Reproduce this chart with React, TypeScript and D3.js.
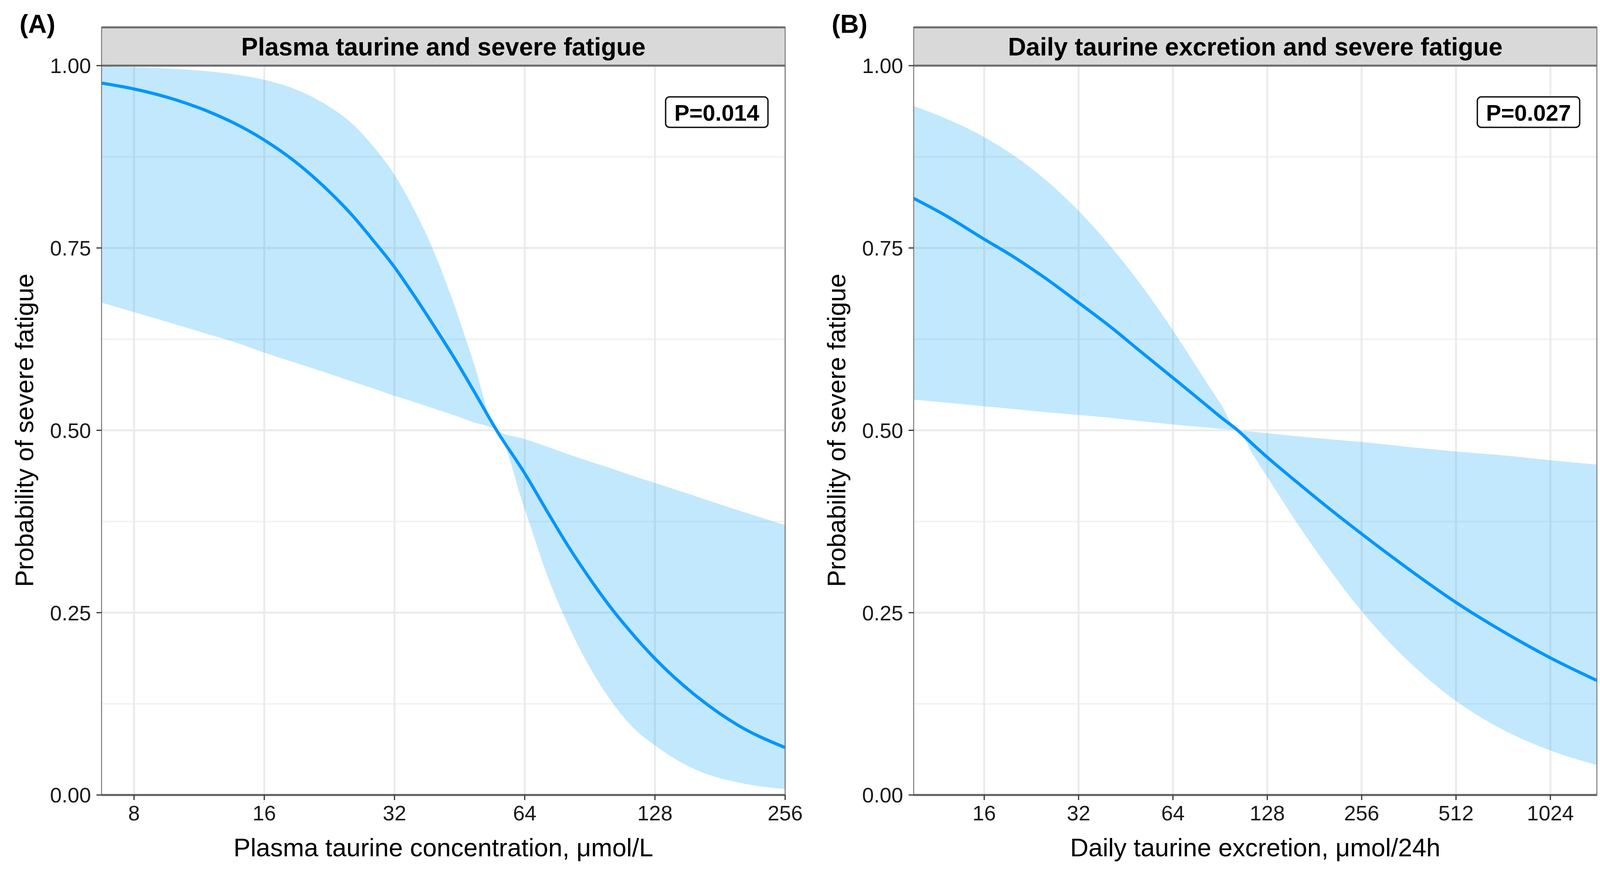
import * as d3 from 'd3';

// Panel A: plasma taurine (umol/L) vs probability of severe fatigue
const plasmaX = [6.73, 8, 10, 12, 13.65, 15.9, 18.8, 22, 25.8, 28.7, 31.7, 35.5, 39.4, 43.8, 48.7, 55.1, 64, 72.6, 80.7, 89.7, 100, 112, 128, 160, 200, 256];
const plasmaFit = [0.976, 0.968, 0.953, 0.936, 0.921, 0.899, 0.869, 0.834, 0.792, 0.759, 0.727, 0.685, 0.644, 0.601, 0.555, 0.5, 0.441, 0.386, 0.341, 0.3, 0.261, 0.225, 0.187, 0.135, 0.095, 0.065];
const plasmaLow = [0.675, 0.662, 0.645, 0.631, 0.621, 0.607, 0.593, 0.58, 0.566, 0.557, 0.548, 0.539, 0.53, 0.521, 0.511, 0.5, 0.392, 0.297, 0.233, 0.179, 0.134, 0.097, 0.068, 0.034, 0.017, 0.008];
const plasmaHigh = [0.9987, 0.9978, 0.9955, 0.992, 0.988, 0.981, 0.968, 0.948, 0.918, 0.888, 0.854, 0.803, 0.746, 0.675, 0.594, 0.5, 0.488, 0.477, 0.467, 0.458, 0.449, 0.439, 0.428, 0.409, 0.39, 0.37];
const plasmaTicks = [8, 16, 32, 64, 128, 256];

// Panel B: daily taurine excretion (umol/24h)
const excretionX = [9.53, 12, 16, 20, 25, 32, 40.7, 49.5, 64, 81, 91, 103, 115, 128, 158, 200, 256, 366, 512, 711, 1024, 1441];
const excretionFit = [0.818, 0.795, 0.762, 0.737, 0.709, 0.675, 0.641, 0.611, 0.572, 0.536, 0.518, 0.5, 0.481, 0.463, 0.43, 0.394, 0.358, 0.308, 0.264, 0.226, 0.188, 0.157];
const excretionLow = [0.542, 0.538, 0.533, 0.529, 0.525, 0.521, 0.517, 0.513, 0.508, 0.504, 0.502, 0.5, 0.467, 0.436, 0.375, 0.312, 0.252, 0.181, 0.129, 0.091, 0.061, 0.041];
const excretionHigh = [0.9445, 0.928, 0.902, 0.876, 0.844, 0.801, 0.751, 0.705, 0.637, 0.569, 0.536, 0.5, 0.498, 0.496, 0.492, 0.488, 0.484, 0.477, 0.471, 0.466, 0.459, 0.453];
const excretionTicks = [16, 32, 64, 128, 256, 512, 1024];

const yTicks = [0, 0.25, 0.5, 0.75, 1];
const yMinor = [0.125, 0.375, 0.625, 0.875];

const W = 4112;
const H = 2227;
const TOP = 168;
const BOTTOM = 2035;
const STRIP_TOP = 70;
const FONT = "'Liberation Sans', Arial, Helvetica, sans-serif";
const LINE = '#0095FF';

interface PanelProps {
  id: string;
  left: number;
  right: number;
  domain: [number, number];
  xs: number[];
  fit: number[];
  low: number[];
  high: number[];
  ticks: number[];
  tag: string;
  title: string;
  xLabel: string;
  pLabel: string;
}

function Panel({ id, left, right, domain, xs, fit, low, high, ticks, tag, title, xLabel, pLabel }: PanelProps) {
  const x = d3.scaleLog().base(2).domain(domain).range([left, right]);
  const y = d3.scaleLinear().domain([0, 1]).range([BOTTOM, TOP]);
  const idx = xs.map((_d, i) => i);

  const area = d3
    .area<number>()
    .x((i) => x(xs[i]))
    .y0((i) => y(low[i]))
    .y1((i) => y(high[i]))
    .curve(d3.curveMonotoneX);
  const line = d3
    .line<number>()
    .x((i) => x(xs[i]))
    .y((i) => y(fit[i]))
    .curve(d3.curveMonotoneX);

  const cx = (left + right) / 2;
  const cy = (TOP + BOTTOM) / 2;
  const boxW = 262;
  const boxX = right - 44 - boxW;

  return (
    <g>
      <defs>
        <clipPath id={`clip-${id}`}>
          <rect x={left} y={TOP} width={right - left} height={BOTTOM - TOP} />
        </clipPath>
      </defs>
      {/* grid */}
      {yMinor.map((v) => (
        <line key={`mn${v}`} x1={left} x2={right} y1={y(v)} y2={y(v)} stroke="#F2F2F2" strokeWidth={4} />
      ))}
      {yTicks.map((v) => (
        <line key={`mj${v}`} x1={left} x2={right} y1={y(v)} y2={y(v)} stroke="#EBEBEB" strokeWidth={5} />
      ))}
      {ticks.map((t) => (
        <line key={`vx${t}`} x1={x(t)} x2={x(t)} y1={TOP} y2={BOTTOM} stroke="#EBEBEB" strokeWidth={5} />
      ))}

      <g clipPath={`url(#clip-${id})`}>
        <path d={area(idx) ?? ''} fill="rgb(0,160,245)" fillOpacity={0.24} />
        <path d={line(idx) ?? ''} fill="none" stroke={LINE} strokeWidth={8} />
      </g>

      {/* panel border */}
      <rect x={left} y={TOP} width={right - left} height={BOTTOM - TOP} fill="none" stroke="#7a7a7a" strokeWidth={2.5} />
      <line x1={left} x2={right} y1={BOTTOM} y2={BOTTOM} stroke="#5e5e5e" strokeWidth={5} />

      {/* strip */}
      <rect x={left} y={STRIP_TOP} width={right - left} height={TOP - STRIP_TOP} fill="#D9D9D9" stroke="#7a7a7a" strokeWidth={2.5} />
      <line x1={left} x2={right} y1={STRIP_TOP} y2={STRIP_TOP} stroke="#6a6a6a" strokeWidth={5} />
      <line x1={left} x2={right} y1={TOP} y2={TOP} stroke="#6a6a6a" strokeWidth={5} />
      <text x={cx} y={142} textAnchor="middle" fontFamily={FONT} fontWeight="bold" fontSize={64} fill="#000">
        {title}
      </text>

      {/* y axis */}
      {yTicks.map((v) => (
        <g key={`yt${v}`}>
          <line x1={left - 13} x2={left} y1={y(v)} y2={y(v)} stroke="#333" strokeWidth={3} />
          <text x={left - 27} y={y(v)} dy="0.36em" textAnchor="end" fontFamily={FONT} fontSize={54} fill="#1a1a1a">
            {v.toFixed(2)}
          </text>
        </g>
      ))}
      <text
        transform={`translate(${left - 175},${cy}) rotate(-90)`}
        textAnchor="middle"
        fontFamily={FONT}
        fontSize={65}
        fill="#000"
      >
        Probability of severe fatigue
      </text>

      {/* x axis */}
      {ticks.map((t) => (
        <g key={`xt${t}`}>
          <line x1={x(t)} x2={x(t)} y1={BOTTOM} y2={BOTTOM + 13} stroke="#333" strokeWidth={3} />
          <text x={x(t)} y={2100} textAnchor="middle" fontFamily={FONT} fontSize={54} fill="#1a1a1a">
            {t}
          </text>
        </g>
      ))}
      <text x={cx} y={2192} textAnchor="middle" fontFamily={FONT} fontSize={65} fill="#000">
        {xLabel}
      </text>

      {/* p value label */}
      <rect x={boxX} y={248} width={boxW} height={78} rx={10} fill="#fff" stroke="#111" strokeWidth={3.5} />
      <text x={boxX + boxW / 2} y={309} textAnchor="middle" fontFamily={FONT} fontWeight="bold" fontSize={58} fill="#000">
        {pLabel}
      </text>

      <text x={left - 210} y={84} fontFamily={FONT} fontWeight="bold" fontSize={66} fill="#000">
        {tag}
      </text>
    </g>
  );
}

export default function App() {
  return (
    <svg
      width={W}
      height={H}
      viewBox={`0 0 ${W} ${H}`}
      style={{ position: 'absolute', top: 0, left: 0, background: '#fff' }}
    >
      <rect width={W} height={H} fill="#fff" />
      <Panel
        id="a"
        left={260}
        right={2010}
        domain={[6.73, 256]}
        xs={plasmaX}
        fit={plasmaFit}
        low={plasmaLow}
        high={plasmaHigh}
        ticks={plasmaTicks}
        tag="(A)"
        title="Plasma taurine and severe fatigue"
        xLabel="Plasma taurine concentration, μmol/L"
        pLabel="P=0.014"
      />
      <Panel
        id="b"
        left={2339}
        right={4088}
        domain={[9.53, 1441]}
        xs={excretionX}
        fit={excretionFit}
        low={excretionLow}
        high={excretionHigh}
        ticks={excretionTicks}
        tag="(B)"
        title="Daily taurine excretion and severe fatigue"
        xLabel="Daily taurine excretion, μmol/24h"
        pLabel="P=0.027"
      />
    </svg>
  );
}
